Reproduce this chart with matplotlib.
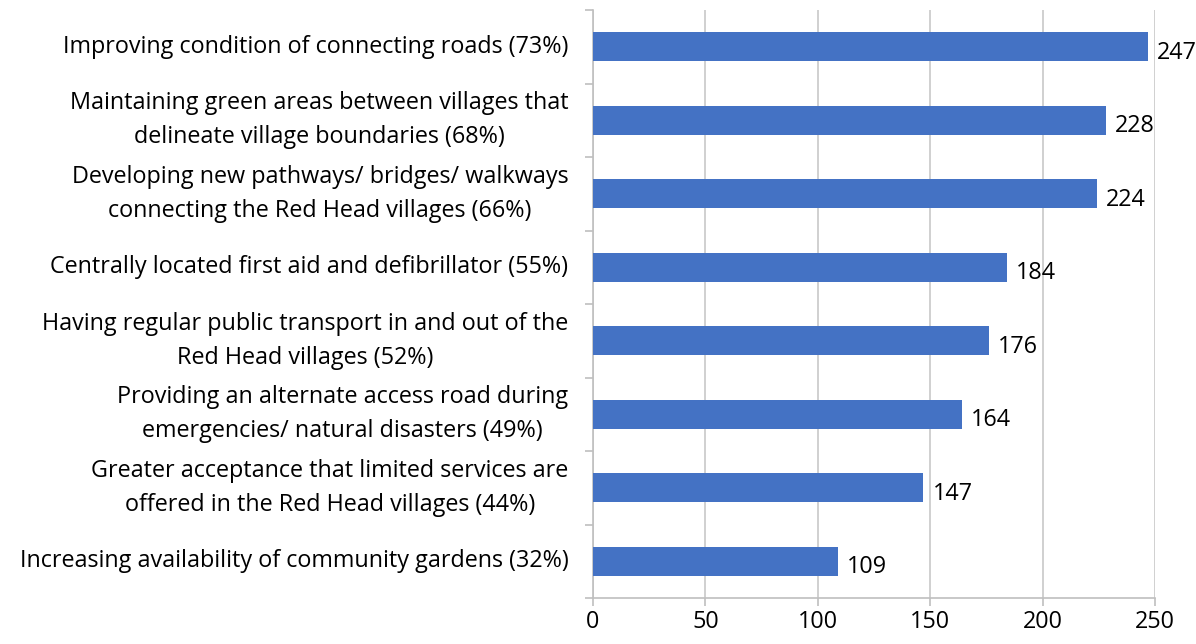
import matplotlib.pyplot as plt

# ==============================
# DATA
# ==============================
categories = [
    "Improving condition of connecting roads (73%)",
    "Maintaining green areas between villages that\ndelineate village boundaries (68%)",
    "Developing new pathways/ bridges/ walkways\nconnecting the Red Head villages (66%)",
    "Centrally located first aid and defibrillator (55%)",
    "Having regular public transport in and out of the\nRed Head villages (52%)",
    "Providing an alternate access road during\nemergencies/ natural disasters (49%)",
    "Greater acceptance that limited services are\noffered in the Red Head villages (44%)",
    "Increasing availability of community gardens (32%)",
]
values = [247, 228, 224, 184, 176, 164, 147, 109]
x_ticks = [0, 50, 100, 150, 200, 250]

# ==============================
# PLOT
# ==============================
plt.rcParams['font.family'] = ['Open Sans', 'DejaVu Sans']
FS = 16.8

fig = plt.figure(figsize=(11.96, 6.44), dpi=100)
ax = fig.add_axes([593 / 1196, 46 / 644, 562 / 1196, 588 / 644])

ypos = list(range(len(categories)))
ax.barh(ypos, values, height=0.4, color="#4472C4", zorder=3)

for y, v in zip(ypos, values):
    ax.text(v + 4, y + 0.08, str(v), va="center", ha="left", fontsize=FS, color="#000000")

ax.set_xlim(0, 250)
ax.set_ylim(len(categories) - 0.5, -0.5)
ax.set_xticks(x_ticks)
ax.set_xticklabels([str(t) for t in x_ticks], fontsize=FS)
ax.grid(axis="x", color="#C8C8C8", linewidth=1.2, zorder=0)

# category labels centered between boundary ticks
ax.set_yticks([i - 0.5 for i in range(len(categories) + 1)])
ax.set_yticklabels([])
ax.tick_params(axis="y", length=6, color="#BFBFBF", width=1.2)
ax.tick_params(axis="x", length=6, color="#BFBFBF", width=1.2, pad=3)
for y, lab in zip(ypos, categories):
    ax.text(-11, y, lab, ha="right", va="center", multialignment="center",
            fontsize=FS, linespacing=1.55, transform=ax.transData, clip_on=False)

for s in ["top", "right"]:
    ax.spines[s].set_visible(False)
for s in ["left", "bottom"]:
    ax.spines[s].set_color("#BFBFBF")
    ax.spines[s].set_linewidth(1.2)

plt.savefig("out.png", dpi=100)
